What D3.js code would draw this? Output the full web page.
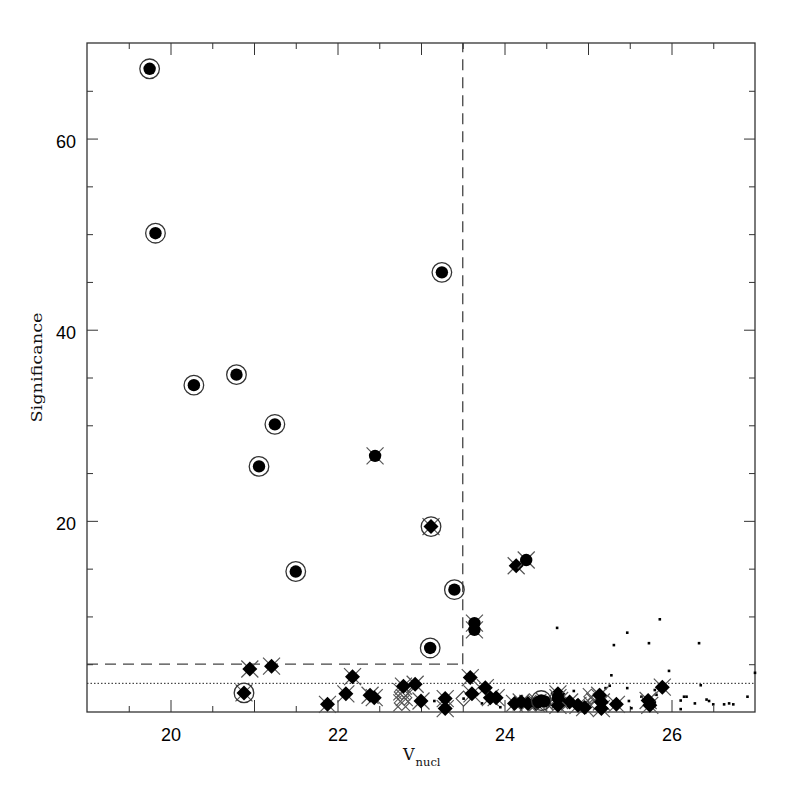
<!DOCTYPE html>
<html>
<head>
<meta charset="utf-8">
<script src="https://cdn.jsdelivr.net/npm/d3@7"></script>
<style>
html,body{margin:0;padding:0;background:#fff;}
</style>
</head>
<body>
<svg id="chart" width="797" height="797"></svg>
<script>
// ---- data ----
const xDomain = [19, 27];
const yDomain = [0, 70];
const xTickLabels = [20, 22, 24, 26];
const yTickLabels = [20, 40, 60];
const magCut = 23.5;      // vertical dashed threshold
const sigCut = 5;         // horizontal dashed threshold
const sigFloor = 3;       // dotted line

// circled filled dots
const ringDots = [[19.75,67.3],[19.82,50.1],[20.28,34.2],[20.79,35.3],[21.25,30.1],[21.06,25.7],[21.50,14.7],[23.25,46.0],[23.40,12.8],[23.11,6.7],[24.44,1.2]];
// circled diamonds with cross
const ringDiamonds = [[20.88,2.0],[23.12,19.4]];
// filled dots with cross
const dotCross = [[22.45,26.8],[24.26,15.9],[23.64,9.3],[23.64,8.6],[24.40,1.0],[24.48,1.1],[24.64,1.5]];
// filled diamonds with cross
const diamondCross = [[24.14,15.3],[20.95,4.5],[21.21,4.8],[21.88,0.8],[22.10,1.9],[22.18,3.7],[22.39,1.75],[22.44,1.5],[22.79,2.7],[22.93,2.9],[23.0,1.15],[23.29,1.4],[23.29,0.36],[23.59,3.6],[23.61,1.9],[23.77,2.55],[23.83,1.5],[23.9,1.5],[24.12,0.9],[24.2,1.05],[24.28,0.9],[24.38,0.9],[24.64,1.9],[24.66,1.2],[24.64,0.7],[24.78,1.05],[24.88,0.7],[24.96,0.46],[25.14,1.75],[25.16,1.05],[25.16,0.36],[25.34,0.8],[25.72,1.2],[25.74,0.7],[25.89,2.6]];
// open diamonds with cross
const openCross = [[22.77,2.1],[22.80,1.5],[22.77,0.95],[25.04,1.6],[25.08,1.1]];
// open diamond with dot
const openDiamonds = [[23.51,1.4]];
// small dots
const smallDots = [[24.63,8.8],[25.47,8.3],[25.86,9.7],[25.31,7.0],[25.73,7.2],[26.33,7.2],[25.28,3.84],[25.97,4.3],[27.0,4.1],[25.47,2.5],[26.35,2.8],[23.16,1.15],[23.73,0.9],[23.95,0.5],[24.83,2.2],[25.21,2.5],[25.26,2.75],[25.8,2.3],[25.82,1.8],[25.64,1.6],[25.8,1.0],[25.49,1.15],[25.52,0.4],[26.11,1.2],[26.15,1.6],[26.18,1.6],[26.11,0.3],[26.28,0.9],[26.42,1.3],[26.45,1.15],[26.5,0.8],[26.63,0.8],[26.69,0.9],[26.74,0.8],[26.91,1.6]];

// ---- layout ----
const L = 87, R = 755, T = 43, B = 712;
const svg = d3.select("#chart");
const x = d3.scaleLinear().domain(xDomain).range([L, R]);
const y = d3.scaleLinear().domain(yDomain).range([B, T]);
const axisColor = "#333";

// threshold lines
svg.append("line").attr("x1", x(xDomain[0])).attr("x2", x(magCut)).attr("y1", y(sigCut)).attr("y2", y(sigCut))
  .attr("stroke", "#444").attr("stroke-width", 1.3).attr("stroke-dasharray", "11,7");
svg.append("line").attr("x1", x(magCut)).attr("x2", x(magCut)).attr("y1", y(sigCut)).attr("y2", y(yDomain[1]))
  .attr("stroke", "#444").attr("stroke-width", 1.3).attr("stroke-dasharray", "11,7");
svg.append("line").attr("x1", x(xDomain[0])).attr("x2", x(xDomain[1])).attr("y1", y(sigFloor)).attr("y2", y(sigFloor))
  .attr("stroke", "#222").attr("stroke-width", 1).attr("stroke-dasharray", "1.5,2");

// axes (ticks pointing inward on all four sides)
const xMajor = d3.range(20, 27, 1), xMinor = d3.range(19.5, 27, 1);
const yMajor = [20, 40, 60], yMinor = d3.range(5, 70, 5).filter(v => v % 20 !== 0);

function drawAxis(gen, tr, vals, len) {
  const g = svg.append("g").attr("transform", tr)
    .call(gen.tickValues(vals).tickSize(len).tickFormat(""));
  g.select(".domain").remove();
  g.selectAll("line").attr("stroke", axisColor).attr("stroke-width", 1);
  return g;
}
drawAxis(d3.axisTop(x), `translate(0,${B})`, xMajor, 12);
drawAxis(d3.axisTop(x), `translate(0,${B})`, xMinor, 6);
drawAxis(d3.axisBottom(x), `translate(0,${T})`, xMajor, 12);
drawAxis(d3.axisBottom(x), `translate(0,${T})`, xMinor, 6);
drawAxis(d3.axisRight(y), `translate(${L},0)`, yMajor, 11);
drawAxis(d3.axisRight(y), `translate(${L},0)`, yMinor, 6);
drawAxis(d3.axisLeft(y), `translate(${R},0)`, yMajor, 11);
drawAxis(d3.axisLeft(y), `translate(${R},0)`, yMinor, 6);

// tick labels via axes
const xl = svg.append("g").attr("transform", `translate(0,${B})`)
  .call(d3.axisBottom(x).tickValues(xTickLabels).tickSize(0).tickPadding(16).tickFormat(d3.format("d")));
xl.select(".domain").remove();
xl.selectAll("text").attr("font-family", "'Liberation Sans', Arial, sans-serif").attr("font-size", 18).attr("fill", "#000");
const yl = svg.append("g").attr("transform", `translate(${L},0)`)
  .call(d3.axisLeft(y).tickValues(yTickLabels).tickSize(0).tickPadding(11).tickFormat(d3.format("d")));
yl.select(".domain").remove();
yl.selectAll("text").attr("font-family", "'Liberation Sans', Arial, sans-serif").attr("font-size", 18).attr("fill", "#000").attr("dy", "0.5em");

// frame
svg.append("rect").attr("x", L).attr("y", T).attr("width", R - L).attr("height", B - T)
  .attr("fill", "none").attr("stroke", axisColor).attr("stroke-width", 1.3);

// axis titles
const xt = svg.append("text").attr("x", 403).attr("y", 760)
  .attr("font-family", "'DejaVu Serif', 'Liberation Serif', serif").attr("fill", "#111");
xt.append("tspan").attr("font-size", 16).text("V");
xt.append("tspan").attr("font-size", 11.5).attr("dy", 5.5).attr("dx", 1).text("nucl");

svg.append("text").attr("transform", "translate(42,367.5) rotate(-90)")
  .attr("text-anchor", "middle")
  .attr("font-family", "'DejaVu Serif', 'Liberation Serif', serif").attr("font-size", 15).attr("fill", "#111")
  .attr("textLength", 110).attr("lengthAdjust", "spacingAndGlyphs")
  .text("Significance");

// ---- markers ----
const crossArm = 8.5, diamondR = 7.5, dotR = 6.2, ringR = 9.8;
function crossPath(d) {
  const cx = x(d[0]), cy = y(d[1]), a = crossArm;
  return `M${cx-a},${cy-a}L${cx+a},${cy+a}M${cx-a},${cy+a}L${cx+a},${cy-a}`;
}
function diamondPath(d) {
  const cx = x(d[0]), cy = y(d[1]), r = diamondR;
  return `M${cx},${cy-r}L${cx+r},${cy}L${cx},${cy+r}L${cx-r},${cy}Z`;
}
const mk = svg.append("g");

// small dots
mk.selectAll(".sd").data(smallDots).join("rect")
  .attr("x", d => x(d[0]) - 1.3).attr("y", d => y(d[1]) - 1.3).attr("width", 2.6).attr("height", 2.6).attr("fill", "#000");

// open diamonds with cross
mk.selectAll(".oc").data(openCross).join("path").attr("d", crossPath).attr("stroke", "#555").attr("stroke-width", 1.1).attr("fill", "none");
mk.selectAll(".od").data(openCross).join("path").attr("d", diamondPath).attr("stroke", "#555").attr("stroke-width", 1.1).attr("fill", "none");

// open diamond with dot
mk.selectAll(".od2").data(openDiamonds).join("path").attr("d", diamondPath).attr("stroke", "#444").attr("stroke-width", 1.1).attr("fill", "#fff");
mk.selectAll(".od2d").data(openDiamonds).join("rect")
  .attr("x", d => x(d[0]) - 1.3).attr("y", d => y(d[1]) - 1.3).attr("width", 2.6).attr("height", 2.6).attr("fill", "#000");

// filled diamonds with cross
mk.selectAll(".dc").data(diamondCross.concat(ringDiamonds)).join("path").attr("d", crossPath).attr("stroke", "#555").attr("stroke-width", 1.2).attr("fill", "none");
mk.selectAll(".dd").data(diamondCross.concat(ringDiamonds)).join("path").attr("d", diamondPath).attr("fill", "#000");

// filled dots with cross
mk.selectAll(".xc").data(dotCross).join("path").attr("d", crossPath).attr("stroke", "#555").attr("stroke-width", 1.2).attr("fill", "none");
mk.selectAll(".xd").data(dotCross.concat(ringDots)).join("circle")
  .attr("cx", d => x(d[0])).attr("cy", d => y(d[1])).attr("r", dotR).attr("fill", "#000");

// rings
mk.selectAll(".rg").data(ringDots.concat(ringDiamonds)).join("circle")
  .attr("cx", d => x(d[0])).attr("cy", d => y(d[1])).attr("r", ringR)
  .attr("fill", "none").attr("stroke", "#333").attr("stroke-width", 1.3);
</script>
</body>
</html>
